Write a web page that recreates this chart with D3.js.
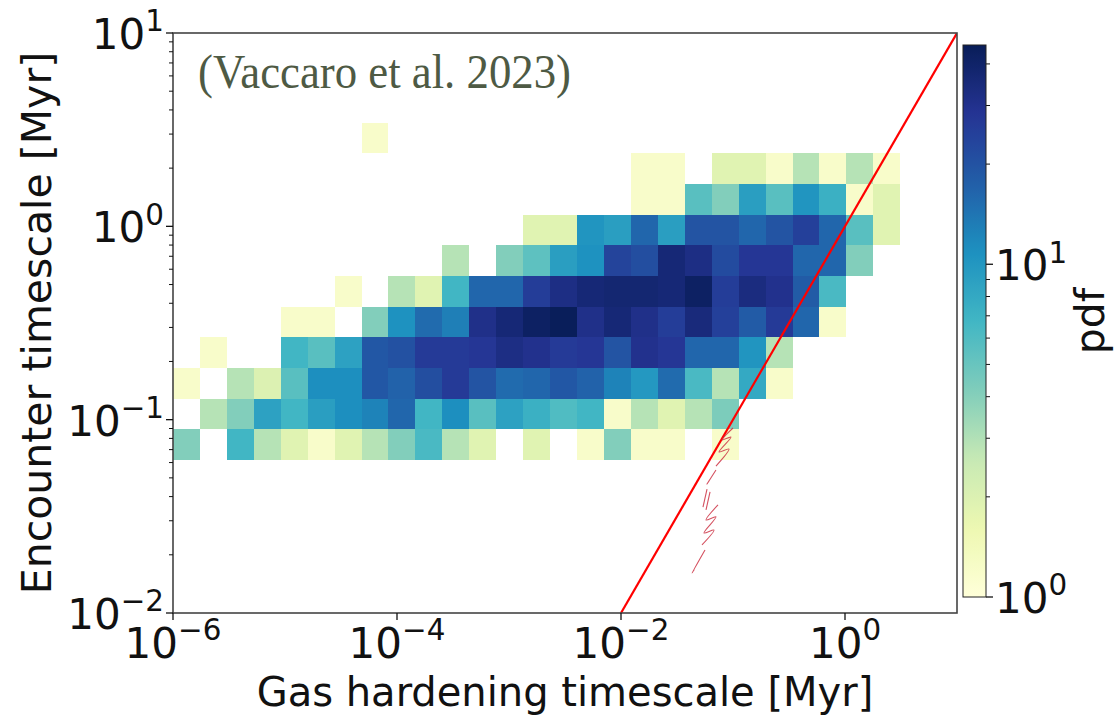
<!DOCTYPE html>
<html><head><meta charset="utf-8">
<script src="https://cdn.jsdelivr.net/npm/d3@7"></script>
<style>body{margin:0;background:#fff}</style>
</head><body><svg id="chart" width="1117" height="715"></svg>
<script>
// ---------- data ----------
const xDomain = [1e-6, 1e1];
const yDomain = [1e-2, 1e1];
const xTickValues = [1e-6, 1e-4, 1e-2, 1e0];
const xTickExps = ["−6", "−4", "−2", "0"];
const yTickValues = [1e-2, 1e-1, 1e0, 1e1];
const yTickExps = ["−2", "−1", "0", "1"];
const cbarTickValues = [1, 10];
const cbarTickExps = ["0", "1"];
const pdfRange = [1, 45.6];
const xBinLog = [-6.0, 0.4935];   // log10 edges of histogram range
const nXBins = 27;
const yBinLog = [-1.2086, 0.537];
const nYBins = 11;
// pdf rows, top (highest encounter timescale bin) to bottom; 0 = empty
const row10 = [0,0,0,0,0,0,0,1.2,0,0,0,0,0,0,0,0,0,0,0,0,0,0,0,0,0,0,0];
const row9  = [0,0,0,0,0,0,0,0,0,0,0,0,0,0,0,0,0,1.2,1.2,0,1.9,1.9,1.2,2.9,1.2,2.9,1.2];
const row8  = [0,0,0,0,0,0,0,0,0,0,0,0,0,0,0,0,0,1.2,1.2,5.6,4.1,9.2,5.6,10.3,7.3,1.2,1.9];
const row7  = [0,0,0,0,0,0,0,0,0,0,0,0,0,1.9,1.9,10.3,9.2,16.3,9.2,19.6,19.6,16.3,19.6,24.6,16.3,5.6,1.9];
const row6  = [0,0,0,0,0,0,0,0,0,0,2.9,0,4.1,5.4,9.2,10.7,23.7,21.1,36,32.1,21.9,27.6,27.6,16.3,16.3,4.1,0];
const row5  = [0,0,0,0,0,0,1.2,0,2.9,1.9,6.75,16.3,16.3,25.6,32.1,36,37.4,37.4,36,41.9,25.6,33.4,29.8,18.2,6.3,0,0];
const row4  = [0,0,0,0,1.2,1.2,0,4.1,10.7,15.6,12.9,30.9,36,41.9,45,30.9,36,30.9,25.6,34.6,24.6,18.2,26.5,16.3,1.2,0,0];
const row3  = [0,1.2,0,0,6.75,5.6,8.8,18.9,20.4,26.5,26.5,27.6,32.1,29.8,26.5,27.6,19.6,29.8,27.6,16.3,16.3,10.3,2.9,0,0,0,0];
const row2  = [1.2,0,2.9,2.0,5.6,11.1,11.1,18.9,16.9,21.1,26.5,19.6,15.6,16.3,18.9,16.9,12.4,9.9,15.6,6.3,2.9,8.0,1.2,0,0,0,0];
const row1  = [0,2.9,4.1,8.8,6.75,9.2,11.1,12.4,16.3,6.75,11.1,5.6,8.8,7.3,6.0,6.75,1.2,2.9,1.9,2.9,4.3,0,0,0,0,0,0];
const row0  = [4.1,0,6.75,2.9,1.9,1.2,1.9,2.9,4.1,6.3,2.9,1.9,0,1.9,0,1.2,4.1,1.2,1.2,0,1.2,0,0,0,0,0,0];
const pdfRowsTopDown = [row10,row9,row8,row7,row6,row5,row4,row3,row2,row1,row0];
// one-to-one reference line t_enc = t_gas
const refLine = [[1e-2, 1e-2], [1e1, 1e1]];
// hand-drawn red marks (log10 x, log10 y)
const scribbles = [
  [[-1.0,-1.043],[-1.098,-1.105],[-1.018,-1.090],[-1.125,-1.167],[-1.036,-1.152],[-1.152,-1.240]],
  [[-1.152,-1.260],[-1.232,-1.333],[-1.215,-1.318]],
  [[-1.232,-1.359],[-1.268,-1.452]],
  [[-1.205,-1.374],[-1.241,-1.467]],
  [[-1.134,-1.441],[-1.241,-1.519],[-1.152,-1.503],[-1.259,-1.586],[-1.170,-1.571],[-1.277,-1.648]],
  [[-1.250,-1.674],[-1.366,-1.793],[-1.345,-1.775]]
];
const xLabel = "Gas hardening timescale [Myr]";
const yLabel = "Encounter timescale [Myr]";
const cbarLabel = "pdf";
const note = "(Vaccaro et al. 2023)";
const ylgnbuStops = ['#ffffd9','#edf8b1','#c7e9b4','#7fcdbb','#41b6c4','#1d91c0','#225ea8','#253494','#081d58'];

// ---------- layout ----------
const P = {left:173, right:957, top:33, bottom:613};
const CB = {left:963, right:986, top:45, bottom:597};
const FONT = "DejaVu Sans, sans-serif";
const svg = d3.select("#chart");

const x = d3.scaleLog().domain(xDomain).range([P.left, P.right]);
const y = d3.scaleLog().domain(yDomain).range([P.bottom, P.top]);
const cmapLin = d3.scaleLinear().domain(d3.range(ylgnbuStops.length).map(i=>i/(ylgnbuStops.length-1))).range(ylgnbuStops).interpolate(d3.interpolateRgb).clamp(true);
const cnorm = d3.scaleLog().domain(pdfRange).range([0,1]).clamp(true);
const color = v => cmapLin(cnorm(v));

svg.append("defs").append("clipPath").attr("id","plotclip")
  .append("rect").attr("x",P.left).attr("y",P.top).attr("width",P.right-P.left).attr("height",P.bottom-P.top);

// ---------- heatmap ----------
const xw = (xBinLog[1]-xBinLog[0])/nXBins, yw = (yBinLog[1]-yBinLog[0])/nYBins;
const cells = [];
pdfRowsTopDown.forEach((row, ri) => {
  const yi = nYBins-1-ri;
  row.forEach((v, ci) => { if (v>0) cells.push({ci, yi, v}); });
});
svg.append("g").attr("shape-rendering","crispEdges").selectAll("rect").data(cells).join("rect")
  .attr("x", d => x(Math.pow(10, xBinLog[0]+d.ci*xw)))
  .attr("width", d => x(Math.pow(10, xBinLog[0]+(d.ci+1)*xw)) - x(Math.pow(10, xBinLog[0]+d.ci*xw)))
  .attr("y", d => y(Math.pow(10, yBinLog[0]+(d.yi+1)*yw)))
  .attr("height", d => y(Math.pow(10, yBinLog[0]+d.yi*yw)) - y(Math.pow(10, yBinLog[0]+(d.yi+1)*yw)))
  .attr("fill", d => color(d.v));

// ---------- red line & marks ----------
const pg = svg.append("g").attr("clip-path","url(#plotclip)");
pg.append("path").datum(refLine)
  .attr("d", d3.line().x(d=>x(d[0])).y(d=>y(d[1])))
  .attr("stroke","#ff0000").attr("stroke-width",2.2).attr("fill","none");
pg.selectAll("path.scr").data(scribbles).join("path").attr("class","scr")
  .attr("d", d3.line().curve(d3.curveCatmullRom).x(d=>x(Math.pow(10,d[0]))).y(d=>y(Math.pow(10,d[1]))))
  .attr("stroke","#cc3344").attr("stroke-width",1.1).attr("fill","none").attr("opacity",0.85);

// ---------- frame ----------
svg.append("rect").attr("x",P.left).attr("y",P.top).attr("width",P.right-P.left).attr("height",P.bottom-P.top)
  .attr("fill","none").attr("stroke","#444").attr("stroke-width",1.6);

// ---------- axes ticks ----------
const tk = svg.append("g").attr("stroke","#111").attr("stroke-width",1.3);
const yMinor = [];
for (let d=-2; d<1; d++) for (let k=2;k<10;k++) yMinor.push(k*Math.pow(10,d));
tk.selectAll("line.ymaj").data(yTickValues).join("line")
  .attr("x1",P.left-7).attr("x2",P.left).attr("y1",d=>y(d)).attr("y2",d=>y(d));
tk.selectAll("line.ymin").data(yMinor).join("line").attr("stroke-width",1)
  .attr("x1",P.left-4).attr("x2",P.left).attr("y1",d=>y(d)).attr("y2",d=>y(d));
tk.selectAll("line.xmaj").data(xTickValues).join("line")
  .attr("y1",P.bottom).attr("y2",P.bottom+7).attr("x1",d=>x(d)).attr("x2",d=>x(d));

function supLabel(g, base, exp, fs) {
  g.append("tspan").text(base);
  g.append("tspan").attr("dy", -0.42*fs).attr("font-size", fs*0.7).text(exp);
}
const FS = 42;
yTickValues.forEach((v,i) => {
  const t = svg.append("text").attr("x",P.left-9).attr("y",y(v)+16).attr("text-anchor","end")
    .attr("font-family",FONT).attr("font-size",FS).attr("fill","#111");
  supLabel(t,"10",yTickExps[i],FS);
});
xTickValues.forEach((v,i) => {
  const t = svg.append("text").attr("x",x(v)).attr("y",658).attr("text-anchor","middle")
    .attr("font-family",FONT).attr("font-size",FS).attr("fill","#111");
  supLabel(t,"10",xTickExps[i],FS);
});

svg.append("text").attr("x",(P.left+P.right)/2).attr("y",706).attr("text-anchor","middle")
  .attr("font-family",FONT).attr("font-size",40).attr("fill","#111").text(xLabel);
svg.append("text").attr("transform",`translate(51,${(P.top+P.bottom)/2}) rotate(-90)`).attr("text-anchor","middle")
  .attr("font-family",FONT).attr("font-size",41).attr("fill","#111").text(yLabel);

// ---------- annotation ----------
svg.append("text").attr("x",198).attr("y",88).attr("font-family","Liberation Serif, serif")
  .attr("font-size",49).attr("fill","#4e5a44").attr("textLength",373).attr("lengthAdjust","spacingAndGlyphs").text(note);

// ---------- colorbar ----------
const cy = d3.scaleLog().domain(pdfRange).range([CB.bottom, CB.top]);
const grad = svg.select("defs").append("linearGradient").attr("id","cbgrad").attr("x1",0).attr("y1",1).attr("x2",0).attr("y2",0);
d3.range(0,1.0001,0.02).forEach(t => grad.append("stop").attr("offset",t).attr("stop-color",cmapLin(t)));
svg.append("rect").attr("x",CB.left).attr("y",CB.top).attr("width",CB.right-CB.left).attr("height",CB.bottom-CB.top)
  .attr("fill","url(#cbgrad)").attr("stroke","#222").attr("stroke-width",1);
const cbMinor = [2,3,4,5,6,7,8,9,20,30,40];
tk.selectAll("line.cmaj").data(cbarTickValues).join("line")
  .attr("x1",CB.right).attr("x2",CB.right+7).attr("y1",d=>cy(d)).attr("y2",d=>cy(d));
tk.selectAll("line.cmin").data(cbMinor).join("line").attr("stroke-width",1)
  .attr("x1",CB.right).attr("x2",CB.right+4).attr("y1",d=>cy(d)).attr("y2",d=>cy(d));
cbarTickValues.forEach((v,i) => {
  const t = svg.append("text").attr("x",CB.right+9).attr("y",cy(v)+16)
    .attr("font-family",FONT).attr("font-size",FS).attr("fill","#111");
  supLabel(t,"10",cbarTickExps[i],FS);
});
svg.append("text").attr("transform",`translate(1104,${(CB.top+CB.bottom)/2}) rotate(-90)`).attr("text-anchor","middle")
  .attr("font-family",FONT).attr("font-size",41).attr("fill","#111").text(cbarLabel);
</script></body></html>
